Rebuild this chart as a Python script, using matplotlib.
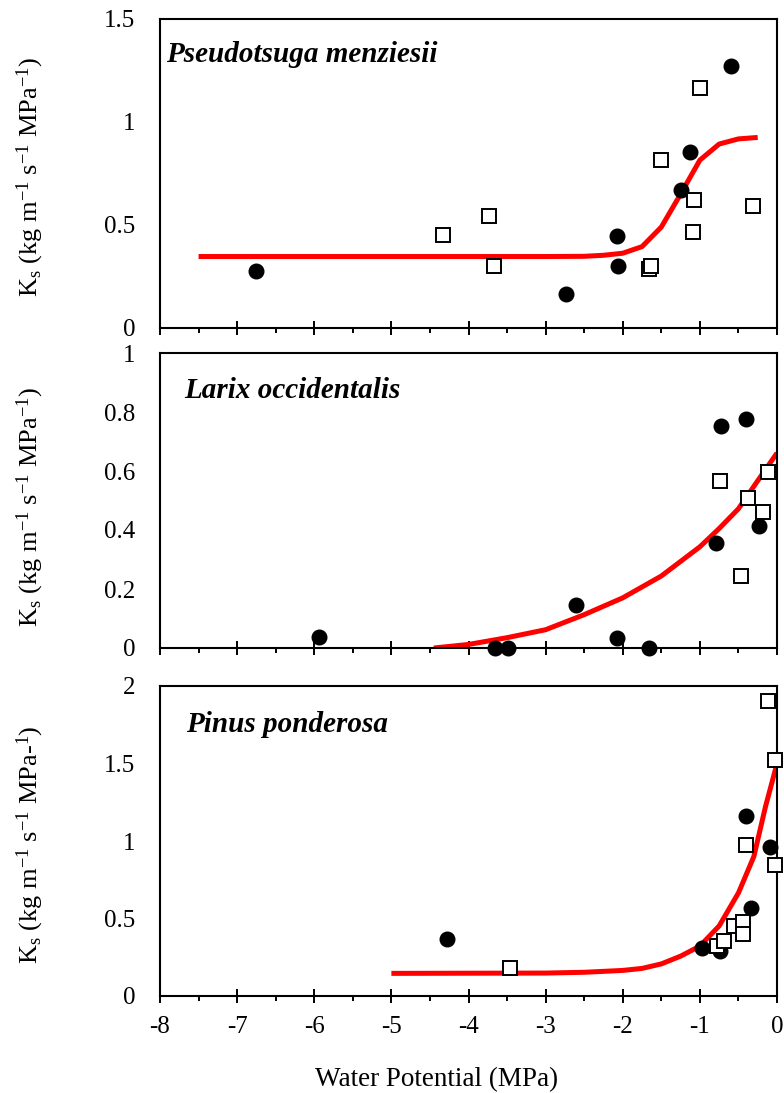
import matplotlib
matplotlib.use('Agg')
import matplotlib.pyplot as plt
from matplotlib.ticker import MultipleLocator

plt.rcParams['font.family'] = ['Liberation Serif', 'DejaVu Serif']
plt.rcParams['mathtext.fontset'] = 'custom'
plt.rcParams['mathtext.rm'] = 'Liberation Serif'
plt.rcParams['mathtext.it'] = 'Liberation Serif:italic'

# Pseudotsuga menziesii
pm_circ_x = [-6.76, -2.74, -2.08, -2.06, -1.24, -1.13, -0.59]
pm_circ_y = [0.279, 0.166, 0.445, 0.303, 0.671, 0.856, 1.273]
pm_sq_x = [-4.33, -3.73, -3.67, -1.66, -1.63, -1.51, -1.07, -1.09, -1.00, -0.31]
pm_sq_y = [0.453, 0.545, 0.299, 0.286, 0.299, 0.815, 0.619, 0.466, 1.167, 0.591]
pm_fit_x = [-7.5, -3.0, -2.5, -2.25, -2.0, -1.75, -1.5, -1.25, -1.0, -0.75, -0.5, -0.25]
pm_fit_y = [0.347, 0.347, 0.348, 0.353, 0.363, 0.395, 0.49, 0.65, 0.815, 0.893, 0.918, 0.925]

# Larix occidentalis
lo_circ_x = [-5.94, -3.65, -3.49, -2.61, -2.07, -1.66, -0.79, -0.73, -0.40, -0.23]
lo_circ_y = [0.037, 0.0, 0.0, 0.147, 0.034, 0.0, 0.356, 0.754, 0.776, 0.412]
lo_sq_x = [-0.74, -0.47, -0.38, -0.18, -0.12]
lo_sq_y = [0.565, 0.245, 0.51, 0.46, 0.597]
lo_fit_x = [-4.45, -4.0, -3.5, -3.0, -2.5, -2.0, -1.5, -1.0, -0.75, -0.5, -0.25, 0.0]
lo_fit_y = [0.0, 0.012, 0.035, 0.062, 0.113, 0.170, 0.244, 0.343, 0.405, 0.472, 0.567, 0.661]

# Pinus ponderosa
pp_circ_x = [-4.28, -0.975, -0.74, -0.40, -0.34, -0.09]
pp_circ_y = [0.365, 0.31, 0.292, 1.16, 0.565, 0.96]
pp_sq_x = [-3.46, -0.78, -0.69, -0.56, -0.44, -0.44, -0.40, -0.12, -0.02, -0.02]
pp_sq_y = [0.178, 0.324, 0.354, 0.453, 0.479, 0.399, 0.977, 1.905, 1.525, 0.844]
pp_fit_x = [-5.0, -3.0, -2.5, -2.0, -1.75, -1.5, -1.25, -1.0, -0.75, -0.5, -0.3, -0.15, 0.0]
pp_fit_y = [0.146, 0.148, 0.153, 0.165, 0.178, 0.207, 0.257, 0.322, 0.452, 0.665, 0.90, 1.22, 1.50]

species = ['Pseudotsuga menziesii', 'Larix occidentalis', 'Pinus ponderosa']
yticks = [[0, 0.5, 1, 1.5], [0, 0.2, 0.4, 0.6, 0.8, 1], [0, 0.5, 1, 1.5, 2]]
yticklabels = [['0', '0.5', '1', '1.5'], ['0', '0.2', '0.4', '0.6', '0.8', '1'],
               ['0', '0.5', '1', '1.5', '2']]
xticks = [-8, -7, -6, -5, -4, -3, -2, -1, 0]
xticklabels = ['-8', '-7', '-6', '-5', '-4', '-3', '-2', '-1', '0']

ylab = r'$\mathregular{K_s}$ (kg m$^{-1}$ s$^{-1}$ MPa$^{-1}$)'
ylab3 = r'$\mathregular{K_s}$ (kg m$^{-1}$ s$^{-1}$ MPa-$^{1}$)'

data = [
    (pm_circ_x, pm_circ_y, pm_sq_x, pm_sq_y, pm_fit_x, pm_fit_y),
    (lo_circ_x, lo_circ_y, lo_sq_x, lo_sq_y, lo_fit_x, lo_fit_y),
    (pp_circ_x, pp_circ_y, pp_sq_x, pp_sq_y, pp_fit_x, pp_fit_y),
]

fig = plt.figure(figsize=(7.84, 10.93), dpi=100)
W, H = 784, 1093
left, right = 160, 777
boxes = [(19, 328), (353, 648), (686, 996)]
title_pos = [(0.01, 0.86), (0.04, 0.847), (0.042, 0.852)]
ylab_y = [177, 507, 845]

for i in range(3):
    top, bot = boxes[i]
    ax = fig.add_axes([left / W, 1 - bot / H, (right - left) / W, (bot - top) / H])
    cx, cy, sx, sy, fx, fy = data[i]
    ax.plot(fx, fy, color='#ff0000', lw=3.6, solid_capstyle='butt', zorder=2)
    ax.plot(cx, cy, 'o', color='black', ms=10.5, mec='black', zorder=3, clip_on=False)
    ax.plot(sx, sy, 's', mfc='white', mec='black', ms=9.6, mew=1.4, zorder=4, clip_on=False)
    ax.set_xlim(-8, 0)
    ax.set_ylim(yticks[i][0], yticks[i][-1])
    ax.set_yticks(yticks[i])
    ax.set_yticklabels(yticklabels[i])
    ax.set_xticks(xticks)
    ax.xaxis.set_minor_locator(MultipleLocator(0.5))
    ax.tick_params(axis='y', length=0, pad=18, labelsize=18)
    ax.tick_params(axis='x', which='major', direction='inout', length=9.5, width=1.4,
                   labelsize=18, pad=10)
    ax.tick_params(axis='x', which='minor', direction='out', length=3.8, width=1.4)
    if i < 2:
        ax.set_xticklabels([])
    else:
        ax.set_xticklabels(xticklabels)
    for s in ax.spines.values():
        s.set_linewidth(1.5)
    ax.text(title_pos[i][0], title_pos[i][1], species[i], transform=ax.transAxes,
            fontsize=21, fontweight='bold', fontstyle='italic', va='baseline', ha='left')
    fig.text(30 / W, 1 - ylab_y[i] / H, ylab if i < 2 else ylab3, rotation=90,
             ha='center', va='center', fontsize=19)

fig.text(437 / W, 1 - 1086 / H, 'Water Potential (MPa)', ha='center', va='baseline', fontsize=19.5)

fig.savefig('out.png', dpi=100)
